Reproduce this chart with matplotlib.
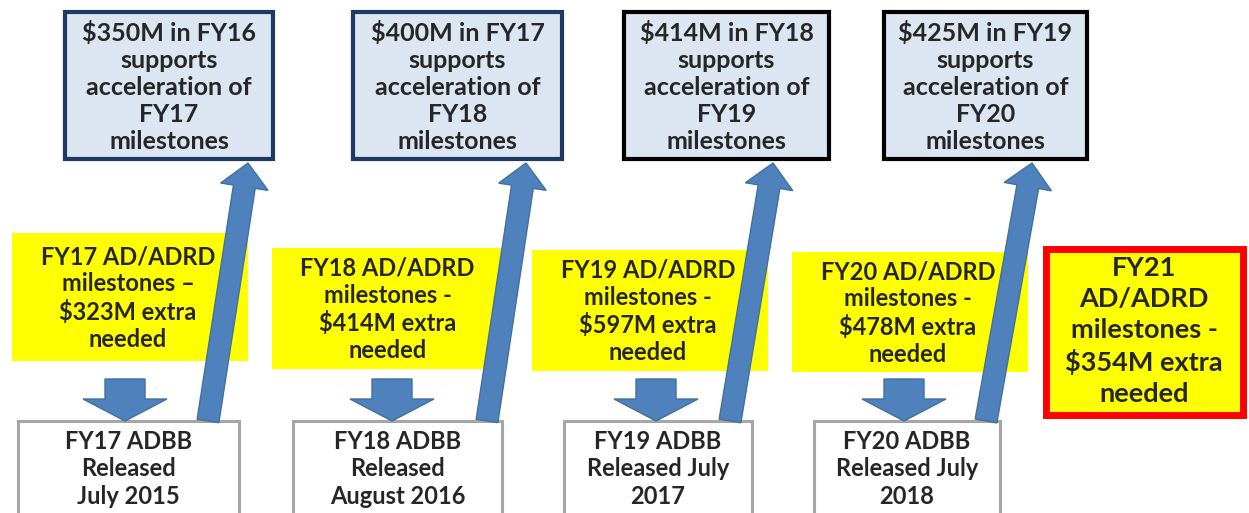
import matplotlib.pyplot as plt
from matplotlib.patches import Rectangle, FancyArrow

# text content of the diagram
funding_text = [
    "$350M in FY16\nsupports\nacceleration of\nFY17\nmilestones",
    "$400M in FY17\nsupports\nacceleration of\nFY18\nmilestones",
    "$414M in FY18\nsupports\nacceleration of\nFY19\nmilestones",
    "$425M in FY19\nsupports\nacceleration of\nFY20\nmilestones",
]
needed_text = [
    "FY17 AD/ADRD\nmilestones \u2013\n$323M extra\nneeded",
    "FY18 AD/ADRD\nmilestones -\n$414M extra\nneeded",
    "FY19 AD/ADRD\nmilestones -\n$597M extra\nneeded",
    "FY20 AD/ADRD\nmilestones -\n$478M extra\nneeded",
]
budget_text = [
    "FY17 ADBB\nReleased\nJuly 2015",
    "FY18 ADBB\nReleased\nAugust 2016",
    "FY19 ADBB\nReleased July\n2017",
    "FY20 ADBB\nReleased July\n2018",
]
fy21_text = "FY21\nAD/ADRD\nmilestones -\n$354M extra\nneeded"

# layout in pixels (x0, x1, y0, y1), y measured from the top
top_boxes = [(65, 273), (353, 562), (624, 829), (884, 1087)]
top_edge = ["#1f3864", "#1f3864", "black", "black"]
yellow_boxes = [(12, 248, 233, 361), (272, 507, 248, 369), (532, 768, 250, 371), (792, 1028, 252, 372)]
white_boxes = [(18, 239), (293, 502), (564, 752), (814, 1000)]
down_x = [125, 392, 656, 904]
up_from = [(208, 421), (487, 421), (730, 421), (986, 421)]
up_to = [(248, 163), (526, 163), (773, 163), (1032, 163)]

blue = "#4f81bd"
txt = "#262626"
plt.rcParams['font.family'] = ['Lato', 'DejaVu Sans']

fig = plt.figure(figsize=(12.49, 5.13), dpi=100)
ax = fig.add_axes([0, 0, 1, 1])
ax.set_xlim(0, 1249)
ax.set_ylim(513, 0)
ax.axis('off')

for i in range(4):
    # funding boxes at the top
    x0, x1 = top_boxes[i]
    ax.add_patch(Rectangle((x0, 12), x1 - x0, 147, facecolor="#dce6f2",
                           edgecolor=top_edge[i], linewidth=3, zorder=2))
    ax.text((x0 + x1) / 2, 87, funding_text[i], ha='center', va='center',
            fontsize=18, fontweight='bold', color=txt, linespacing=1.2, zorder=5)

    # yellow "extra needed" boxes
    x0, x1, y0, y1 = yellow_boxes[i]
    ax.add_patch(Rectangle((x0, y0), x1 - x0, y1 - y0, facecolor="#ffff00",
                           edgecolor='none', zorder=1))
    ax.text((x0 + x1) / 2 - 2, (y0 + y1) / 2 + 1, needed_text[i], ha='center', va='center',
            fontsize=17, fontweight='bold', color=txt, linespacing=1.21, zorder=5)

    # budget release boxes
    x0, x1 = white_boxes[i]
    ax.add_patch(Rectangle((x0, 421), x1 - x0, 100, facecolor="white",
                           edgecolor="#a6a6a6", linewidth=2.2, zorder=2))
    ax.text((x0 + x1) / 2, 469, budget_text[i], ha='center', va='center',
            fontsize=17, fontweight='bold', color=txt, linespacing=1.25, zorder=5)

    # short down arrows
    ax.add_patch(FancyArrow(down_x[i], 379, 0, 42, width=40, head_width=84,
                            head_length=22, length_includes_head=True,
                            facecolor=blue, edgecolor="#41719c", linewidth=1, zorder=3))

    # long slanted up arrows
    (xa, ya), (xb, yb) = up_from[i], up_to[i]
    ax.add_patch(FancyArrow(xa, ya, xb - xa, yb - ya, width=22, head_width=48,
                            head_length=24, length_includes_head=True,
                            facecolor=blue, edgecolor="#41719c", linewidth=1, zorder=4))

# FY21 box with red border
ax.add_patch(Rectangle((1046, 249), 197, 166, facecolor="#ffff00",
                       edgecolor="#ff0000", linewidth=5, zorder=2))
ax.text(1144, 331, fy21_text, ha='center', va='center', fontsize=19.5,
        fontweight='bold', color=txt, linespacing=1.34, zorder=5)

fig.savefig("out.png", dpi=100)
